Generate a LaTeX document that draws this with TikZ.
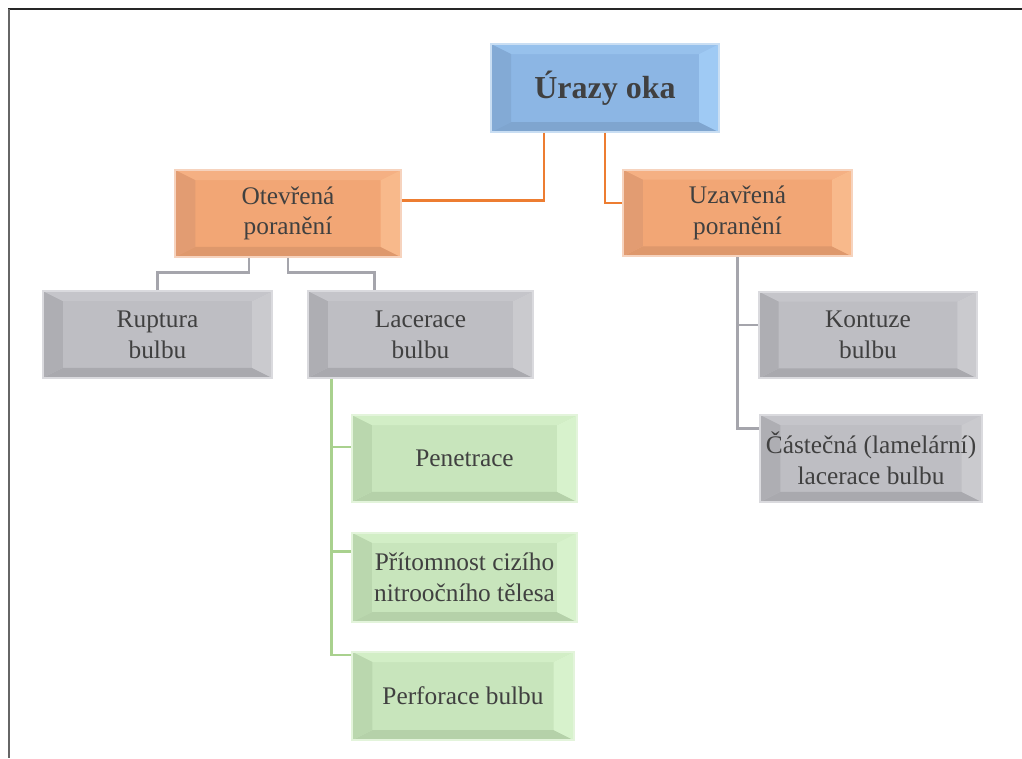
\documentclass[tikz,border=0pt]{standalone}
\usepackage{fontspec}
\setmainfont{Liberation Serif}
\usetikzlibrary{calc}
\definecolor{txt}{HTML}{404040}
\definecolor{blueM}{HTML}{8CB6E4}
\definecolor{blueT}{HTML}{97C1EC}
\definecolor{blueD}{HTML}{7FA5CF}
\definecolor{blueL}{HTML}{83AAD5}
\definecolor{blueR}{HTML}{9FCAF4}
\definecolor{blueE}{HTML}{C9DEF3}
\definecolor{orM}{HTML}{F2A675}
\definecolor{orT}{HTML}{F5B083}
\definecolor{orD}{HTML}{DE986C}
\definecolor{orL}{HTML}{E29C72}
\definecolor{orR}{HTML}{F8B98B}
\definecolor{orE}{HTML}{F6D3BE}
\definecolor{grM}{HTML}{BEBEC3}
\definecolor{grT}{HTML}{C5C5CA}
\definecolor{grD}{HTML}{A9A9AE}
\definecolor{grL}{HTML}{AEAEB3}
\definecolor{grR}{HTML}{CACACE}
\definecolor{grE}{HTML}{DADADE}
\definecolor{gnM}{HTML}{C8E5BC}
\definecolor{gnT}{HTML}{D2EEC6}
\definecolor{gnD}{HTML}{B5D1A9}
\definecolor{gnL}{HTML}{BAD7AE}
\definecolor{gnR}{HTML}{D7F2CC}
\definecolor{gnE}{HTML}{E3F4DB}
\definecolor{lnOr}{HTML}{ED7D31}
\definecolor{lnGr}{HTML}{A5A5AC}
\definecolor{lnGn}{HTML}{A9D18E}
\tikzset{
  bx/.style={draw=#1E, line width=1.3pt, fill=#1M, text=txt, align=center,
    inner sep=0pt, font=\fontsize{19}{23}\selectfont,
    minimum width=169pt, minimum height=65pt,
    path picture={
      \fill[#1T] (path picture bounding box.north west) -- (path picture bounding box.north east)
        -- ([shift={(-15pt,-7.5pt)}]path picture bounding box.north east)
        -- ([shift={(15pt,-7.5pt)}]path picture bounding box.north west) -- cycle;
      \fill[#1D] (path picture bounding box.south west) -- (path picture bounding box.south east)
        -- ([shift={(-15pt,7.5pt)}]path picture bounding box.south east)
        -- ([shift={(15pt,7.5pt)}]path picture bounding box.south west) -- cycle;
      \fill[#1L] (path picture bounding box.north west) -- (path picture bounding box.south west)
        -- ([shift={(15pt,7.5pt)}]path picture bounding box.south west)
        -- ([shift={(15pt,-7.5pt)}]path picture bounding box.north west) -- cycle;
      \fill[#1R] (path picture bounding box.north east) -- (path picture bounding box.south east)
        -- ([shift={(-15pt,7.5pt)}]path picture bounding box.south east)
        -- ([shift={(-15pt,-7.5pt)}]path picture bounding box.north east) -- cycle;
    }},
  conn/.style={draw=#1, line width=1.9pt}
}
\begin{document}
\begin{tikzpicture}[x=0.75pt,y=-0.75pt]
\useasboundingbox (0,0) rectangle (1022,758);
% frame
\draw[line width=1.6pt, color=black!85] (8,9) -- (1022,9);
\draw[line width=1.6pt, color=black!60] (9,9) -- (9,758);
% nodes
\node[bx=blue, minimum width=171pt, minimum height=66pt, font=\fontsize{24}{28}\selectfont\bfseries] (root) at (605,88) {Úrazy oka};
\node[bx=or] (otev) at (288,213.5) {Otevřená\\poranění};
\node[bx=or, minimum width=172pt] (uzav) at (737.5,213) {Uzavřená\\poranění};
\node[bx=gr, minimum width=172pt] (rupt) at (157.5,334.5) {Ruptura\\bulbu};
\node[bx=gr] (lacer) at (420.5,334.5) {Lacerace\\bulbu};
\node[bx=gr, minimum width=164pt] (kont) at (868,335) {Kontuze\\bulbu};
\node[bx=gr, minimum width=166pt] (cast) at (871,458.5) {Částečná (lamelární)\\lacerace bulbu};
\node[bx=gn] (pen) at (464.5,458.5) {Penetrace};
\node[bx=gn, minimum height=67pt] (prit) at (464.5,577.5) {Přítomnost cizího\\nitroočního tělesa};
\node[bx=gn, minimum width=166pt, minimum height=66pt] (perf) at (463,696) {Perforace bulbu};
% orange connectors
\draw[conn=lnOr] ($(root.south)+(-61,0)$) |- ($(otev.east)+(0,-13)$);
\draw[conn=lnOr] (root.south) |- ($(uzav.west)+(0,-10)$);
% grey connectors from Otevřená
\coordinate (g1) at ($(otev.south)+(-39,15)$);
\coordinate (g2) at ($(otev.south)+(0,15)$);
\draw[conn=lnGr] ($(otev.south)+(-39,0)$) -- (g1) -| (rupt.north);
\draw[conn=lnGr] (otev.south) -- (g2) -| ($(lacer.north)+(-46,0)$);
% grey connectors from Uzavřená
\coordinate (kb) at ($(kont.west)+(0,-10)$);
\draw[conn=lnGr] (uzav.south) |- ($(cast.west)+(0,-30)$);
\draw[conn=lnGr] (uzav.south |- kb) -- (kb);
% green connectors
\coordinate (gx) at ($(lacer.south)+(-89,0)$);
\coordinate (pb) at ($(pen.west)+(0,-11.5)$);
\coordinate (tb) at ($(prit.west)+(0,-26)$);
\draw[conn=lnGn] (gx) |- ($(perf.west)+(0,-41)$);
\draw[conn=lnGn] (gx |- pb) -- (pb);
\draw[conn=lnGn] (gx |- tb) -- (tb);
\end{tikzpicture}
\end{document}
